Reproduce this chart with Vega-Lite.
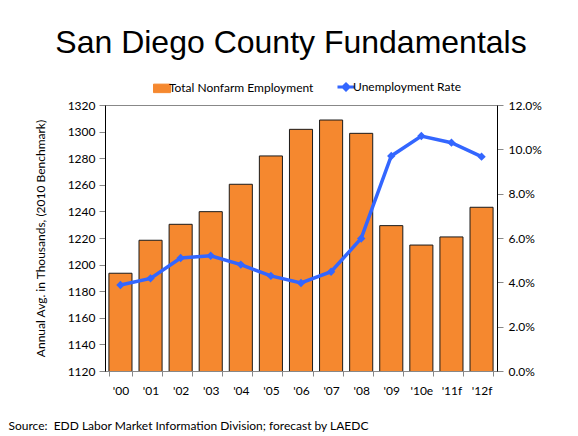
{
  "$schema": "https://vega.github.io/schema/vega-lite/v6.json",
  "width": 392,
  "height": 266,
  "autosize": {"type": "none"},
  "padding": {"left": 105, "top": 105, "right": 81, "bottom": 65},
  "background": "white",
  "config": {
    "view": {"stroke": "#888888", "strokeWidth": 1},
    "axis": {"labelFont": "Lato", "labelFontSize": 12, "labelColor": "#000", "titleFont": "Lato", "titleFontSize": 12, "titleFontWeight": "normal", "titleColor": "#000", "grid": false},
    "legend": {
      "orient": "none",
      "legendX": 51,
      "legendY": -24,
      "direction": "horizontal",
      "labelFont": "Lato",
      "labelFontSize": 12,
      "labelColor": "#000",
      "symbolSize": 289,
      "columnPadding": 17,
      "labelOffset": 1
    }
  },
  "title": {
    "text": "San Diego County Fundamentals",
    "font": "Liberation Sans",
    "fontSize": 32,
    "fontWeight": "normal",
    "color": "#000",
    "anchor": "middle",
    "baseline": "alphabetic",
    "dx": -10,
    "dy": 19,
    "offset": 15
  },
  "data": {
    "values": [
      {"year": "'00", "emp": 1193.5, "rate": 0.0388},
      {"year": "'01", "emp": 1218.3, "rate": 0.0418},
      {"year": "'02", "emp": 1230.3, "rate": 0.0510},
      {"year": "'03", "emp": 1239.8, "rate": 0.0520},
      {"year": "'04", "emp": 1260.4, "rate": 0.0480},
      {"year": "'05", "emp": 1281.7, "rate": 0.0429},
      {"year": "'06", "emp": 1301.7, "rate": 0.0397},
      {"year": "'07", "emp": 1308.7, "rate": 0.0448},
      {"year": "'08", "emp": 1298.7, "rate": 0.0598},
      {"year": "'09", "emp": 1229.3, "rate": 0.0970},
      {"year": "'10e", "emp": 1214.7, "rate": 0.1060},
      {"year": "'11f", "emp": 1220.8, "rate": 0.1030},
      {"year": "'12f", "emp": 1243.1, "rate": 0.0967}
    ]
  },
  "encoding": {
    "x": {
      "field": "year",
      "type": "ordinal",
      "sort": null,
      "scale": {"paddingInner": 0.233, "paddingOuter": 0.13},
      "axis": {
        "labelAngle": 0,
        "domainColor": "#888888",
        "tickColor": "#888888",
        "tickBand": "extent",
        "tickSize": 5,
        "labelPadding": 9,
        "title": "Source:\u00a0 EDD Labor Market Information Division; forecast by LAEDC",
        "titleX": -97,
        "titleY": 58,
        "titleAlign": "left",
        "titleAnchor": "start",
        "titleBaseline": "alphabetic",
        "titleFontSize": 12
      }
    }
  },
  "layer": [
    {
      "mark": {"type": "bar", "stroke": "#1a1a1a", "strokeWidth": 1, "clip": true},
      "encoding": {
        "y": {
          "field": "emp",
          "type": "quantitative",
          "scale": {"domain": [1120, 1320], "zero": false, "nice": false},
          "axis": {
            "values": [1120, 1140, 1160, 1180, 1200, 1220, 1240, 1260, 1280, 1300, 1320],
            "format": "d",
            "domainColor": "#000",
            "tickColor": "#888888",
            "tickSize": 6,
            "labelPadding": 4,
            "title": "Annual Avg. in Thousands, (2010 Benchmark)",
            "titlePadding": 20
          }
        },
        "color": {
          "datum": "Total Nonfarm Employment",
          "scale": {"domain": ["Total Nonfarm Employment", "Unemployment Rate"], "range": ["#F5882F", "#3366FF"]},
          "legend": {
            "title": null,
            "encode": {
              "symbols": {
                "update": {
                  "shape": {"signal": "datum.value === 'Unemployment Rate' ? 'M-1,0H1M0,-0.35L0.35,0L0,0.35L-0.35,0Z' : 'M-1,-0.5H1V0.5H-1Z'"},
                  "stroke": {"signal": "datum.value === 'Unemployment Rate' ? '#3366FF' : '#1a1a1a'"},
                  "strokeWidth": {"signal": "datum.value === 'Unemployment Rate' ? 3 : 1"},
                  "fill": {"signal": "datum.value === 'Unemployment Rate' ? '#3366FF' : '#F5882F'"},
                  "opacity": {"value": 1}
                }
              }
            }
          }
        }
      }
    },
    {
      "mark": {"type": "line", "strokeWidth": 3.5, "point": {"filled": true, "shape": "diamond", "size": 70, "opacity": 1}},
      "encoding": {
        "y": {
          "field": "rate",
          "type": "quantitative",
          "scale": {"domain": [0, 0.12], "nice": false},
          "axis": {
            "orient": "right",
            "format": ".1%",
            "values": [0, 0.02, 0.04, 0.06, 0.08, 0.1, 0.12],
            "domainColor": "#000",
            "tickColor": "#888888",
            "tickSize": 6,
            "labelPadding": 5,
            "title": null
          }
        },
        "color": {
          "datum": "Unemployment Rate",
          "legend": {
            "title": null,
            "encode": {
              "symbols": {
                "update": {
                  "shape": {"signal": "datum.value === 'Unemployment Rate' ? 'M-1,0H1M0,-0.35L0.35,0L0,0.35L-0.35,0Z' : 'M-1,-0.5H1V0.5H-1Z'"},
                  "stroke": {"signal": "datum.value === 'Unemployment Rate' ? '#3366FF' : '#1a1a1a'"},
                  "strokeWidth": {"signal": "datum.value === 'Unemployment Rate' ? 3 : 1"},
                  "fill": {"signal": "datum.value === 'Unemployment Rate' ? '#3366FF' : '#F5882F'"},
                  "opacity": {"value": 1}
                }
              }
            }
          }
        }
      }
    }
  ],
  "resolve": {"scale": {"y": "independent"}}
}
